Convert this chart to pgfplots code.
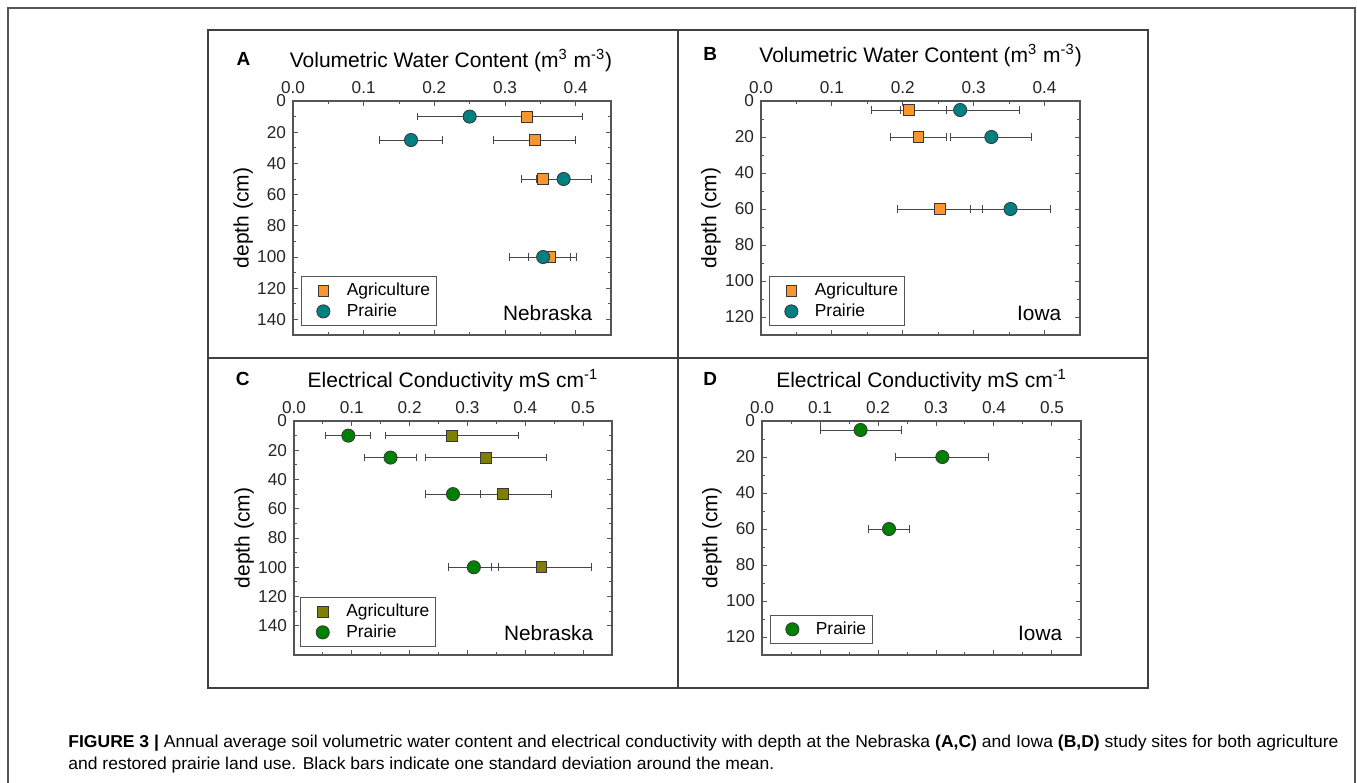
\documentclass[border=0pt]{standalone}
\usepackage{fontspec}
\setmainfont{Liberation Sans}
\usepackage{graphicx}
\usepackage{pgfplots}
\pgfplotsset{compat=1.18}
\usepackage{pgfplotstable}

\definecolor{agorange}{RGB}{250,150,48}
\definecolor{prteal}{RGB}{0,128,128}
\definecolor{agolive}{RGB}{128,128,0}
\definecolor{prgreen}{RGB}{0,128,0}
\definecolor{edgecol}{RGB}{55,55,55}
\definecolor{errcol}{RGB}{70,70,70}
\definecolor{framecol}{RGB}{85,85,85}
\definecolor{capcol}{RGB}{45,45,45}

% volumetric water content, Nebraska
\pgfplotstableread{
x d e
0.331 10 0.078
0.342 25 0.058
0.354 50 0.031
0.363 100 0.030
}\vwcNeAg
\pgfplotstableread{
x d e
0.250 10 0.074
0.167 25 0.045
0.383 50 0.039
0.354 100 0.047
}\vwcNePr
% volumetric water content, Iowa
\pgfplotstableread{
x d e
0.209 5 0.053
0.222 20 0.039
0.252 60 0.060
}\vwcIaAg
\pgfplotstableread{
x d e
0.281 5 0.084
0.325 20 0.057
0.352 60 0.057
}\vwcIaPr
% electrical conductivity, Nebraska
\pgfplotstableread{
x d e
0.273 10 0.115
0.332 25 0.104
0.362 50 0.083
0.428 100 0.086
}\ecNeAg
\pgfplotstableread{
x d e
0.094 10 0.039
0.167 25 0.045
0.275 50 0.048
0.311 100 0.043
}\ecNePr
% electrical conductivity, Iowa
\pgfplotstableread{
x d e
0.170 5 0.070
0.311 20 0.080
0.219 60 0.035
}\ecIaPr

\pgfplotsset{
  panel/.style={
    anchor=north west, scale only axis, width=159pt, height=117pt,
    y dir=reverse, xmin=0, ymin=0,
    axis line style={framecol, line width=0.6pt},
    tick align=inside, tick style={framecol, line width=0.5pt},
    major tick length=2.6pt, minor tick length=1.6pt,
    xticklabel pos=upper,
    minor x tick num=1, minor y tick num=1,
    x tick label style={/pgf/number format/.cd, fixed, fixed zerofill, precision=1},
    tick label style={font=\fontsize{8.6}{10}\selectfont, color=black!85},
    /pgf/number format/assume math mode=true,
    ylabel={depth (cm)},
    ylabel style={at={(axis description cs:-0.157,0.5)}, anchor=center,
      font=\fontsize{10.5}{12}\selectfont},
    legend cell align=left,
    legend style={at={(0.025,0.038)}, anchor=south west, draw=framecol,
      line width=0.5pt, font=\fontsize{8.7}{10}\selectfont,
      inner sep=1.2pt, row sep=-1.6pt},
  },
  errs/.style={only marks, mark=none, forget plot,
    error bars/.cd, x dir=both, x explicit,
    error bar style={errcol, line width=0.5pt},
    error mark options={rotate=90, errcol, mark size=1.9pt, line width=0.5pt}},
  % legend sample: one mark in the middle of a 19pt wide cell
  legmark/.style={legend image code/.code={\path (0pt,-1pt) (19pt,1pt);
      \draw[mark repeat=2, mark phase=2, ##1]
      plot coordinates {(0pt,0pt) (9.5pt,0pt) (19pt,0pt)};}},
  dots/.style={only marks, mark=*, mark size=3.3pt,
    mark options={fill=#1, draw=edgecol, line width=0.4pt}, legmark},
  sqs/.style={only marks, mark=square*, mark size=2.7pt,
    mark options={fill=#1, draw=edgecol, line width=0.4pt}, legmark},
}

\newsavebox\capA
\newsavebox\capB

\begin{document}
\sbox\capA{\fontsize{8.6}{10}\selectfont\textbf{FIGURE 3 |} Annual average soil volumetric water content and electrical conductivity with depth at the Nebraska \textbf{(A,C)} and Iowa \textbf{(B,D)} study sites for both agriculture}%
\sbox\capB{\fontsize{8.6}{10}\selectfont and restored prairie land use. Black bars indicate one standard deviation around the mean.}%
\pgfmathsetmacro\capsx{635pt/\wd\capA}%
\begin{tikzpicture}
\useasboundingbox (0,0) rectangle (678.5pt,-391.5pt);
\fill[white] (0,0) rectangle (678.5pt,-391.5pt);
% outer frame (open at the bottom)
\draw[framecol, line width=1pt] (4pt,-391.5pt) -- (4pt,-4pt) -- (677.5pt,-4pt) -- (677.5pt,-391.5pt);
% panel frame
\draw[black!75, line width=0.8pt] (104pt,-15pt) rectangle (574pt,-344pt);
\draw[black!75, line width=0.8pt] (339pt,-15pt) -- (339pt,-344pt);
\draw[black!75, line width=0.8pt] (104pt,-179pt) -- (574pt,-179pt);

% ---- A
\begin{axis}[panel, at={(146.5pt,-50.5pt)}, xmax=0.45, ymax=150,
  xtick={0,0.1,0.2,0.3,0.4}, ytick={0,20,...,140}]
\addplot[errs] table[x=x, y=d, x error=e] {\vwcNeAg};
\addplot[errs] table[x=x, y=d, x error=e] {\vwcNePr};
\addplot[sqs=agorange] table[x=x, y=d] {\vwcNeAg};
\addplot[dots=prteal] table[x=x, y=d] {\vwcNePr};
\legend{Agriculture, Prairie}
\node[anchor=east, font=\fontsize{10.4}{12}\selectfont] at (axis description cs:0.963,0.094) {Nebraska};
\end{axis}

% ---- B
\begin{axis}[panel, at={(380.5pt,-50.5pt)}, width=159.5pt, xmax=0.45, ymax=130,
  xtick={0,0.1,0.2,0.3,0.4}, ytick={0,20,...,120}]
\addplot[errs] table[x=x, y=d, x error=e] {\vwcIaAg};
\addplot[errs] table[x=x, y=d, x error=e] {\vwcIaPr};
\addplot[sqs=agorange] table[x=x, y=d] {\vwcIaAg};
\addplot[dots=prteal] table[x=x, y=d] {\vwcIaPr};
\legend{Agriculture, Prairie}
\node[anchor=east, font=\fontsize{10.4}{12}\selectfont] at (axis description cs:0.963,0.094) {Iowa};
\end{axis}

% ---- C
\begin{axis}[panel, at={(147pt,-210.5pt)}, xmax=0.55, ymax=160,
  xtick={0,0.1,0.2,0.3,0.4,0.5}, ytick={0,20,...,140},
  legend style={at={(0.02,0.034)}}]
\addplot[errs] table[x=x, y=d, x error=e] {\ecNeAg};
\addplot[errs] table[x=x, y=d, x error=e] {\ecNePr};
\addplot[sqs=agolive] table[x=x, y=d] {\ecNeAg};
\addplot[dots=prgreen] table[x=x, y=d] {\ecNePr};
\legend{Agriculture, Prairie}
\node[anchor=east, font=\fontsize{10.4}{12}\selectfont] at (axis description cs:0.963,0.094) {Nebraska};
\end{axis}

% ---- D
\begin{axis}[panel, at={(381pt,-210.5pt)}, width=159.5pt, xmax=0.55, ymax=130,
  xtick={0,0.1,0.2,0.3,0.4,0.5}, ytick={0,20,...,120},
  legend style={at={(0.025,0.047)}}]
\addplot[errs] table[x=x, y=d, x error=e] {\ecIaPr};
\addplot[dots=prgreen] table[x=x, y=d] {\ecIaPr};
\legend{Prairie}
\node[anchor=east, font=\fontsize{10.4}{12}\selectfont] at (axis description cs:0.963,0.094) {Iowa};
\end{axis}

% panel letters and titles
\begin{scope}[font=\fontsize{10.5}{12}\selectfont]
\node[anchor=base west, font=\fontsize{9.5}{11}\selectfont\bfseries] at (114.8pt,-32.5pt) {A};
\node[anchor=base west, font=\fontsize{9.5}{11}\selectfont\bfseries] at (348.2pt,-30pt) {B};
\node[anchor=base west, font=\fontsize{9.5}{11}\selectfont\bfseries] at (114.4pt,-192.6pt) {C};
\node[anchor=base west, font=\fontsize{9.5}{11}\selectfont\bfseries] at (348.2pt,-192.6pt) {D};
\node[anchor=base, inner sep=0pt] at (225.5pt,-33.5pt) {Volumetric Water Content (m\textsuperscript{3} m\textsuperscript{-3})};
\node[anchor=base, inner sep=0pt] at (460.3pt,-31pt) {Volumetric Water Content (m\textsuperscript{3} m\textsuperscript{-3})};
\node[anchor=base, inner sep=0pt] at (226.5pt,-193.7pt) {Electrical Conductivity mS cm\textsuperscript{-1}};
\node[anchor=base, inner sep=0pt] at (460.8pt,-193.7pt) {Electrical Conductivity mS cm\textsuperscript{-1}};
\end{scope}

% caption
\node[anchor=base west, inner sep=0pt, capcol] at (34pt,-373.5pt) {\scalebox{\capsx}[1]{\usebox\capA}};
\node[anchor=base west, inner sep=0pt, capcol] at (34pt,-384.5pt) {\scalebox{\capsx}[1]{\usebox\capB}};
\end{tikzpicture}
\end{document}
